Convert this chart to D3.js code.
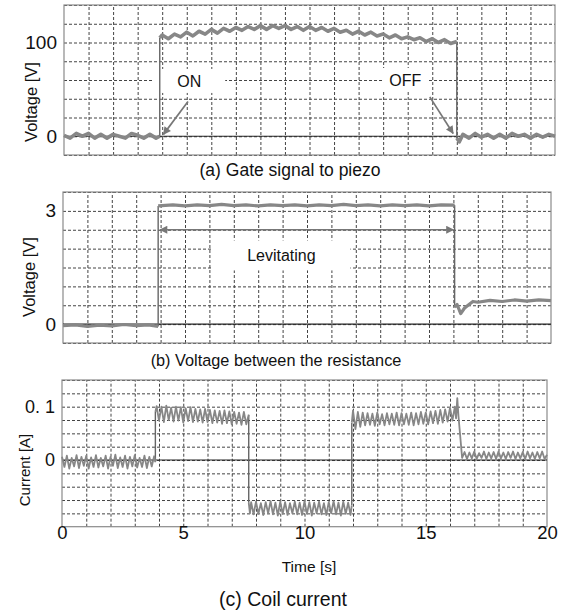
<!DOCTYPE html>
<html>
<head>
<meta charset="utf-8">
<script src="https://cdn.jsdelivr.net/npm/d3@7"></script>
<style>
  body { margin: 0; background: #fff; }
  text { font-family: "Liberation Sans", Arial, sans-serif; fill: #111; }
</style>
</head>
<body>
<script>
// time axis
var timeTicks = [0, 5, 10, 15, 20];

// (a) gate signal to piezo [s, V]
var gateVoltage = [
  [0, 1], [0.25, -2], [0.5, 3], [0.75, 0], [1, 3], [1.25, -2], [1.5, 2], [1.75, -2],
  [2, 2], [2.25, 0], [2.5, -2], [2.75, 3], [3, 1], [3.25, -2], [3.5, 2], [3.75, -2], [3.9, 0],
  [3.9, 105], [4, 108], [4.25, 104], [4.5, 109], [4.75, 106], [5, 111], [5.25, 107], [5.5, 112],
  [5.75, 109], [6, 114], [6.25, 110], [6.5, 115], [6.75, 112], [7, 116], [7.25, 113], [7.5, 117],
  [7.75, 114], [8, 118], [8.25, 114], [8.5, 118], [8.75, 115], [9, 118], [9.25, 114], [9.5, 117],
  [9.75, 113], [10, 117], [10.25, 113], [10.5, 116], [10.75, 112], [11, 115], [11.25, 111],
  [11.5, 113], [11.75, 109], [12, 112], [12.25, 108], [12.5, 111], [12.75, 107], [13, 109],
  [13.25, 105], [13.5, 108], [13.75, 104], [14, 106], [14.25, 103], [14.5, 105], [14.75, 101],
  [15, 104], [15.25, 100], [15.5, 103], [15.75, 99], [16, 101],
  [16, -2], [16.1, -6], [16.25, 2], [16.5, -2], [16.75, 3], [17, -1], [17.25, 2], [17.5, -2],
  [17.75, 2], [18, -2], [18.25, 3], [18.5, 0], [18.75, 2], [19, -2], [19.25, 2], [19.5, -1],
  [19.75, 2], [20, 0]
];
var gateTicks = [0, 100];

// (b) voltage between the resistance [s, V]
var resistVoltage = [
  [0, -0.04], [0.5, -0.02], [1, -0.06], [1.5, -0.03], [2, -0.05], [2.5, -0.01], [3, -0.04],
  [3.5, -0.02], [3.9, -0.06],
  [3.9, 3.13], [4.5, 3.16], [5, 3.13], [5.5, 3.16], [6, 3.14], [6.5, 3.17], [7, 3.14], [7.5, 3.16],
  [8, 3.13], [8.5, 3.16], [9, 3.14], [9.5, 3.16], [10, 3.13], [10.5, 3.16], [11, 3.14], [11.5, 3.17],
  [12, 3.14], [12.5, 3.16], [13, 3.13], [13.5, 3.16], [14, 3.14], [14.5, 3.16], [15, 3.13],
  [15.5, 3.16], [16.05, 3.15],
  [16.05, 0.45], [16.15, 0.52], [16.3, 0.28], [16.45, 0.42], [16.6, 0.5], [16.8, 0.6], [17, 0.58],
  [17.5, 0.63], [18, 0.6], [18.5, 0.64], [19, 0.61], [19.5, 0.64], [20, 0.62]
];
var resistTicks = [0, 3];

// (c) coil current [s, A]
var coilCurrent = [
  [0, 0.006], [0.1, -0.013], [0.2, 0.008], [0.3, -0.016], [0.4, 0.004], [0.5, -0.012], [0.6, 0.009],
  [0.7, -0.015], [0.8, 0.006], [0.9, -0.011], [1, 0.008], [1.1, -0.016], [1.2, 0.005], [1.3, -0.013],
  [1.4, 0.009], [1.5, -0.014], [1.6, 0.004], [1.7, -0.012], [1.8, 0.008], [1.9, -0.016], [2, 0.006],
  [2.1, -0.011], [2.2, 0.01], [2.3, -0.015], [2.4, 0.005], [2.5, -0.013], [2.6, 0.008], [2.7, -0.016],
  [2.8, 0.006], [2.9, -0.012], [3, 0.009], [3.1, -0.014], [3.2, 0.004], [3.3, -0.013], [3.4, 0.008],
  [3.5, -0.015], [3.6, 0.006], [3.7, -0.012], [3.8, 0.007], [3.85, -0.004],
  [3.85, 0.09], [3.9, 0.101], [4, 0.074], [4.1, 0.1], [4.2, 0.071], [4.3, 0.102], [4.4, 0.075],
  [4.5, 0.098], [4.6, 0.072], [4.7, 0.1], [4.8, 0.074], [4.9, 0.099], [5, 0.07], [5.1, 0.097],
  [5.2, 0.073], [5.3, 0.099], [5.4, 0.071], [5.5, 0.096], [5.6, 0.072], [5.7, 0.095], [5.8, 0.07],
  [5.9, 0.096], [6, 0.071], [6.1, 0.094], [6.2, 0.069], [6.3, 0.093], [6.4, 0.07], [6.5, 0.092],
  [6.6, 0.068], [6.7, 0.093], [6.8, 0.069], [6.9, 0.091], [7, 0.067], [7.1, 0.09], [7.2, 0.068],
  [7.3, 0.089], [7.4, 0.066], [7.5, 0.09], [7.6, 0.067], [7.7, 0.085],
  [7.7, -0.08], [7.75, -0.1], [7.8, -0.079], [7.9, -0.102], [8, -0.078], [8.1, -0.101], [8.2, -0.081],
  [8.3, -0.103], [8.4, -0.079], [8.5, -0.1], [8.6, -0.077], [8.7, -0.102], [8.8, -0.08], [8.9, -0.104],
  [9, -0.078], [9.1, -0.101], [9.2, -0.079], [9.3, -0.103], [9.4, -0.081], [9.5, -0.1], [9.6, -0.078],
  [9.7, -0.102], [9.8, -0.08], [9.9, -0.103], [10, -0.077], [10.1, -0.101], [10.2, -0.079],
  [10.3, -0.104], [10.4, -0.08], [10.5, -0.1], [10.6, -0.078], [10.7, -0.102], [10.8, -0.081],
  [10.9, -0.103], [11, -0.079], [11.1, -0.1], [11.2, -0.077], [11.3, -0.102], [11.4, -0.08],
  [11.5, -0.104], [11.6, -0.078], [11.7, -0.101], [11.8, -0.08], [11.9, -0.103], [11.95, -0.085],
  [11.95, 0.07], [12, 0.093], [12.1, 0.058], [12.2, 0.09], [12.3, 0.062], [12.4, 0.089], [12.5, 0.065],
  [12.6, 0.088], [12.7, 0.066], [12.8, 0.087], [12.9, 0.064], [13, 0.089], [13.1, 0.067], [13.2, 0.086],
  [13.3, 0.065], [13.4, 0.088], [13.5, 0.067], [13.6, 0.087], [13.7, 0.066], [13.8, 0.089],
  [13.9, 0.065], [14, 0.088], [14.1, 0.067], [14.2, 0.087], [14.3, 0.066], [14.4, 0.089], [14.5, 0.065],
  [14.6, 0.088], [14.7, 0.067], [14.8, 0.09], [14.9, 0.068], [15, 0.089], [15.1, 0.067], [15.2, 0.091],
  [15.3, 0.069], [15.4, 0.092], [15.5, 0.068], [15.6, 0.094], [15.7, 0.07], [15.8, 0.095], [15.9, 0.072],
  [16, 0.098], [16.1, 0.074], [16.2, 0.1], [16.25, 0.078], [16.3, 0.116], [16.35, 0.082],
  [16.5, 0.004], [16.6, 0.015], [16.7, 0.002], [16.8, 0.014], [16.9, 0.003], [17, 0.016], [17.1, 0.002],
  [17.2, 0.013], [17.3, 0.004], [17.4, 0.016], [17.5, 0.002], [17.6, 0.014], [17.7, 0.003], [17.8, 0.015],
  [17.9, 0.002], [18, 0.016], [18.1, 0.003], [18.2, 0.014], [18.3, 0.002], [18.4, 0.015], [18.5, 0.004],
  [18.6, 0.016], [18.7, 0.002], [18.8, 0.014], [18.9, 0.003], [19, 0.015], [19.1, 0.002], [19.2, 0.016],
  [19.3, 0.003], [19.4, 0.014], [19.5, 0.002], [19.6, 0.015], [19.7, 0.003], [19.8, 0.016],
  [19.9, 0.002], [20, 0.01]
];
var coilTicks = [0, 0.1];
var coilTickText = ["0", "0. 1"];

var svg = d3.select("body").append("svg")
  .attr("width", 562)
  .attr("height", 612);

var defs = svg.append("defs");
defs.append("marker")
  .attr("id", "head")
  .attr("viewBox", "0 0 10 10")
  .attr("refX", 9).attr("refY", 5)
  .attr("markerWidth", 10).attr("markerHeight", 8)
  .attr("markerUnits", "userSpaceOnUse")
  .attr("orient", "auto-start-reverse")
  .append("path")
  .attr("d", "M0,0 L10,5 L0,10 z")
  .attr("fill", "#777");

// draws one framed scope panel and returns its scales
function drawPanel(p) {
  var x = d3.scaleLinear().domain([0, 20]).range([p.left, p.right]);
  var y = d3.scaleLinear().domain(p.domain).range([p.bottom, p.top]);
  var g = svg.append("g");

  // dashed grid
  g.append("g")
    .attr("transform", "translate(0," + p.bottom + ")")
    .call(d3.axisBottom(x).tickValues(d3.range(1, 20)).tickSize(-(p.bottom - p.top)).tickFormat(""))
    .call(s => s.select(".domain").remove())
    .call(s => s.selectAll("line").attr("stroke", "#444").attr("stroke-dasharray", "3,2"));
  g.append("g")
    .attr("transform", "translate(" + p.left + ",0)")
    .call(d3.axisLeft(y).tickValues(p.grid).tickSize(-(p.right - p.left)).tickFormat(""))
    .call(s => s.select(".domain").remove())
    .call(s => s.selectAll("line").attr("stroke", "#444").attr("stroke-dasharray", "3,2"));

  g.append("rect")
    .attr("x", p.left).attr("y", p.top)
    .attr("width", p.right - p.left).attr("height", p.bottom - p.top)
    .attr("fill", "none").attr("stroke", "#8a8a8a").attr("stroke-width", 1.2);

  // zero reference
  g.append("line")
    .attr("x1", p.left).attr("x2", p.right)
    .attr("y1", y(0)).attr("y2", y(0))
    .attr("stroke", "#222").attr("stroke-width", 1.1);

  // tick labels
  g.append("g")
    .attr("transform", "translate(" + (p.left - 7) + ",0)")
    .call(d3.axisLeft(y).tickValues(p.ticks).tickSize(0).tickPadding(0).tickFormat((d, i) => p.tickText[i]))
    .call(s => s.select(".domain").remove())
    .call(s => s.selectAll("text")
      .attr("font-family", "Liberation Sans, Arial, sans-serif")
      .attr("font-size", p.tickSize).attr("fill", "#111"));

  svg.append("text")
    .attr("transform", "translate(" + p.titleX + "," + p.titleY + ") rotate(-90)")
    .attr("text-anchor", "middle")
    .attr("dy", "0.35em")
    .attr("font-size", p.titleSize)
    .text(p.title);

  svg.append("text")
    .attr("x", p.capX).attr("y", p.capY)
    .attr("text-anchor", "middle")
    .attr("font-size", p.capSize)
    .text(p.caption);

  return { x: x, y: y, g: g };
}

// thick noisy band for each level, thin line for the switching edges
function drawTrace(sc, data, w) {
  var runs = [[data[0]]], edges = [];
  for (var i = 1; i < data.length; i++) {
    if (data[i][0] === data[i - 1][0]) {
      edges.push([data[i - 1], data[i]]);
      runs.push([data[i]]);
    } else {
      runs[runs.length - 1].push(data[i]);
    }
  }
  var line = d3.line().x(d => sc.x(d[0])).y(d => sc.y(d[1]));
  sc.g.selectAll(null).data(edges).enter().append("path")
    .attr("d", line)
    .attr("fill", "none")
    .attr("stroke", "#666")
    .attr("stroke-width", 1.4);
  sc.g.selectAll(null).data(runs).enter().append("path")
    .attr("d", line)
    .attr("fill", "none")
    .attr("stroke", "#878787")
    .attr("stroke-width", w)
    .attr("stroke-linejoin", "round");
}

function label(sc, t, v, txt, box) {
  var cx = sc.x(t), cy = sc.y(v);
  sc.g.append("rect")
    .attr("x", cx - box[0] / 2).attr("y", cy - box[1] / 2)
    .attr("width", box[0]).attr("height", box[1])
    .attr("fill", "#fff");
  sc.g.append("text")
    .attr("x", cx).attr("y", cy)
    .attr("dy", "0.35em")
    .attr("text-anchor", "middle")
    .attr("font-size", 16)
    .text(txt);
}

function arrow(sc, a, twoWay) {
  sc.g.append("line")
    .attr("x1", sc.x(a[0])).attr("y1", sc.y(a[1]))
    .attr("x2", sc.x(a[2])).attr("y2", sc.y(a[3]))
    .attr("stroke", "#777").attr("stroke-width", 1.7)
    .attr("marker-end", "url(#head)")
    .attr("marker-start", twoWay ? "url(#head)" : null);
}

// (a)
var pa = drawPanel({
  left: 64, right: 555, top: 5, bottom: 155,
  domain: [-20, 140], grid: d3.range(-20, 141, 20),
  ticks: gateTicks, tickText: gateTicks.map(String), tickSize: 19,
  title: "Voltage [V]", titleX: 31, titleY: 102, titleSize: 16.5,
  caption: "(a) Gate signal to piezo", capX: 290, capY: 176, capSize: 17.5
});
label(pa, 5.1, 59, "ON", [72, 24]);
label(pa, 13.9, 60, "OFF", [46, 24]);
drawTrace(pa, gateVoltage, 3.6);
arrow(pa, [5.05, 37, 4.05, 2]);
arrow(pa, [14.9, 42, 15.85, 3]);

// (b)
var pb = drawPanel({
  left: 63, right: 551, top: 192, bottom: 343,
  domain: [-0.5, 3.5], grid: d3.range(-0.5, 3.51, 0.5),
  ticks: resistTicks, tickText: resistTicks.map(String), tickSize: 19,
  title: "Voltage [V]", titleX: 29, titleY: 277, titleSize: 16.5,
  caption: "(b) Voltage between the resistance", capX: 276, capY: 366, capSize: 16.3
});
label(pb, 8.95, 1.82, "Levitating", [138, 30]);
drawTrace(pb, resistVoltage, 3.2);
arrow(pb, [3.98, 2.5, 16.0, 2.5], true);

// (c)
var pc = drawPanel({
  left: 62, right: 547, top: 380, bottom: 526.7,
  domain: [-0.125, 0.15], grid: d3.range(-0.1, 0.151, 0.025),
  ticks: coilTicks, tickText: coilTickText, tickSize: 18,
  title: "Current [A]", titleX: 25, titleY: 470, titleSize: 15,
  caption: "(c) Coil current", capX: 283, capY: 606, capSize: 19.5
});
drawTrace(pc, coilCurrent, 1.8);

pc.g.append("g")
  .attr("transform", "translate(0," + 525 + ")")
  .call(d3.axisBottom(pc.x).tickValues(timeTicks).tickSize(0).tickPadding(1))
  .call(s => s.select(".domain").remove())
  .call(s => s.selectAll("text")
    .attr("font-family", "Liberation Sans, Arial, sans-serif")
    .attr("font-size", 18.5).attr("fill", "#111"));

svg.append("text")
  .attr("x", 309).attr("y", 572)
  .attr("text-anchor", "middle")
  .attr("font-size", 15.5)
  .text("Time [s]");
</script>
</body>
</html>
